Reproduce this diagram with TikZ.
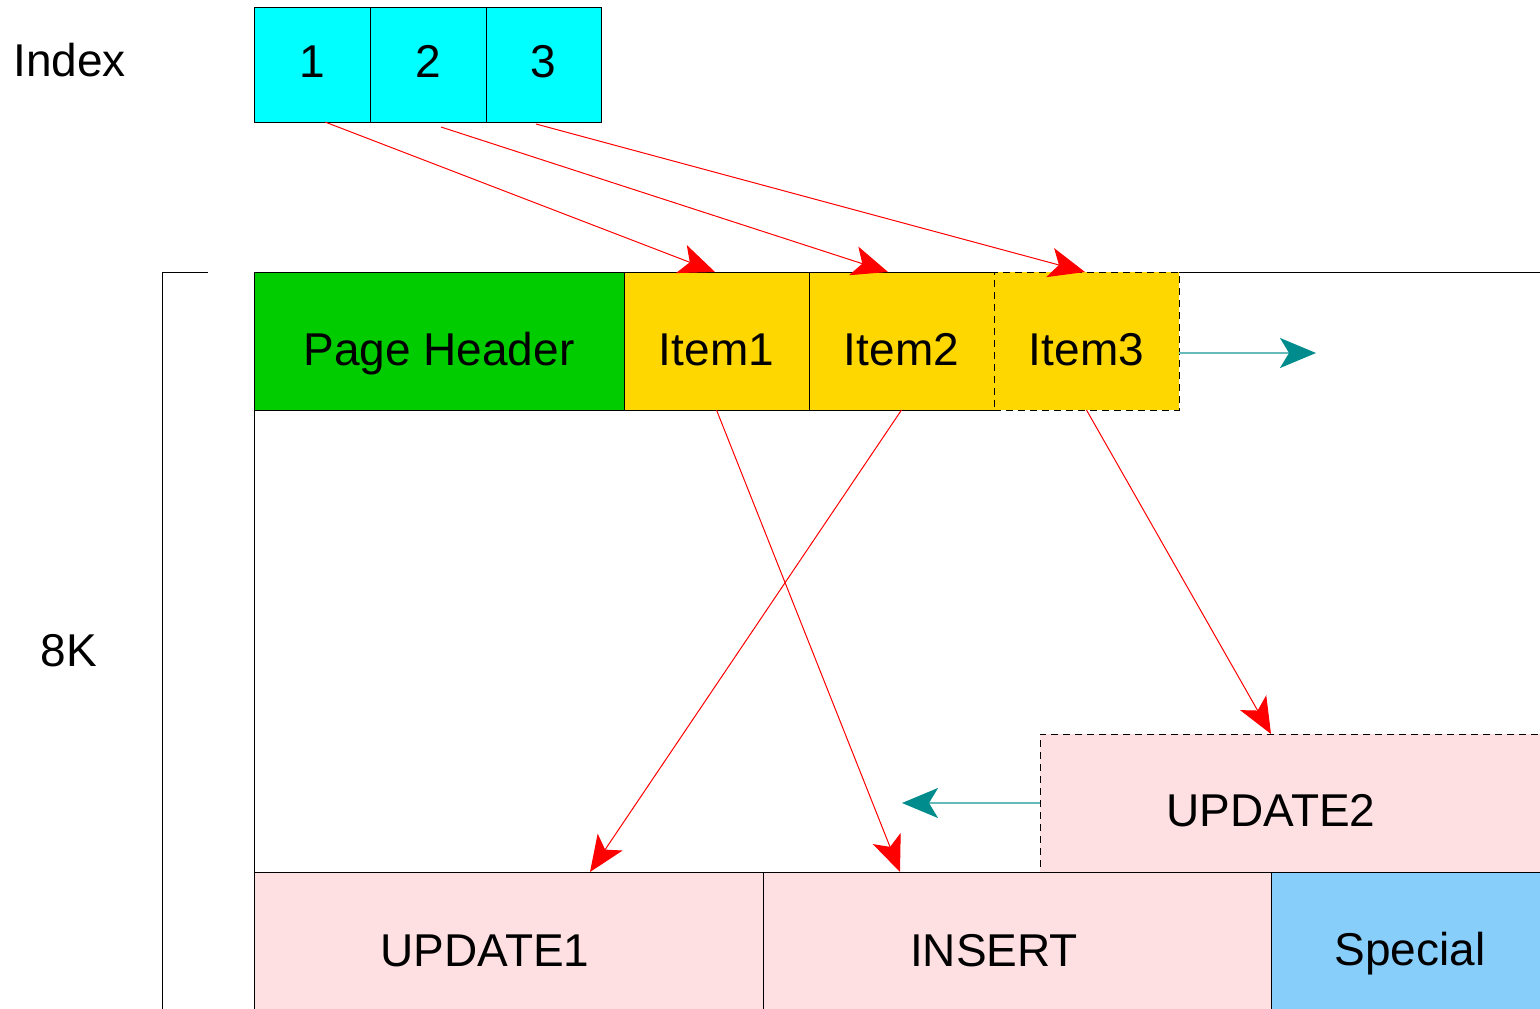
\documentclass[tikz,border=0pt]{standalone}
\usepackage{fontspec}
\setmainfont{Liberation Sans}
\usetikzlibrary{arrows.meta,calc}
\definecolor{cyanbox}{RGB}{0,255,255}
\definecolor{greenbox}{RGB}{0,204,0}
\definecolor{yellowbox}{RGB}{255,215,0}
\definecolor{pinkbox}{RGB}{255,224,226}
\definecolor{bluebox}{RGB}{135,206,250}
\definecolor{tealc}{RGB}{0,140,140}
\begin{document}
\begin{tikzpicture}[x=1pt,y=-1pt,
  lbl/.style={inner sep=0pt,outer sep=0pt,font=\fontsize{46}{55}\selectfont,text height=33pt,text depth=0pt},
  box/.style={draw=black,line width=1pt,inner sep=0pt,outer sep=0pt,font=\fontsize{46}{55}\selectfont,text height=49pt,text depth=0pt},
  cellbox/.style={box,fill=cyanbox,text height=33pt,text depth=8pt,minimum height=115pt},
  itembox/.style={box,fill=yellowbox,minimum width=185pt,minimum height=138pt},
  dbox/.style={dash pattern=on 7pt off 5pt},
  redarrow/.style={draw=red,line width=1pt,-{Stealth[length=36pt,width=30pt,inset=9pt,color=red]}},
  tealarrow/.style={draw=tealc!60,line width=2pt,-{Stealth[length=36pt,width=30pt,inset=9pt,color=tealc]}}]
\useasboundingbox (0,0) rectangle (1540,1009);

% labels
\node[lbl] (index) at (69.5,60) {Index};
\node[lbl] (eightk) at (69,650) {8K};

% bracket and page frame
\draw[line width=1pt] (208,272) -- (162,272) -- (162,1020);
\draw[line width=1pt] (254,1020) -- (254,272) -- (1550,272);

% index cells
\node[cellbox,minimum width=116pt] (i1) at (312,64.5) {1};
\node[cellbox,minimum width=116pt] (i2) at (428,64.5) {2};
\node[cellbox,minimum width=115pt] (i3) at (543.5,64.5) {3};

% header row
\node[box,fill=greenbox,minimum width=370pt,minimum height=138pt] (ph) at (439,341) {Page Header};
\node[itembox] (it1) at (716.5,341) {Item1};
\node[itembox] (it2) at (901.5,341) {Item2};
\node[itembox,dbox] (it3) at (1086.5,341) {Item3};

% bottom row
\node[box,fill=pinkbox,minimum width=509pt,minimum height=148pt,
  label={[lbl,xshift=-23.5pt,yshift=-4pt]center:UPDATE1}] (up1) at (508.5,946) {};
\node[box,fill=pinkbox,minimum width=508pt,minimum height=148pt,
  label={[lbl,xshift=-23pt,yshift=-4pt]center:INSERT}] (ins) at (1017,946) {};
\node[box,fill=bluebox,minimum width=279pt,minimum height=148pt,
  label={[lbl,xshift=-0.5pt,yshift=-3pt]center:Special}] (sp) at (1410.5,946) {};
\node[box,dbox,fill=pinkbox,minimum width=510pt,minimum height=138pt,
  label={[lbl,xshift=-24pt,yshift=-7pt]center:UPDATE2}] (up2) at (1295,803) {};

% free ends
\coordinate (tend1) at (1316,353);
\coordinate (tend2) at (902,803);

% red pointers
\draw[redarrow] ($(i1.south)+(13,0)$) -- ($(it1.north)+(-1.5,0)$);
\draw[redarrow] ($(i2.south)+(13,5)$) -- ($(it2.north)+(-13.5,0)$);
\draw[redarrow] ($(i3.south)+(-7.5,2)$) -- ($(it3.north)+(-1.5,0)$);
\draw[redarrow] (it1.south) -- ($(ins.north)+(-117,0)$);
\draw[redarrow] (it2.south) -- ($(up1.north)+(81.5,0)$);
\draw[redarrow] (it3.south) -- ($(up2.north)+(-24,0)$);

% teal arrows
\draw[tealarrow] ($(it3.east)+(0,12)$) -- (tend1);
\draw[tealarrow] (up2.west) -- (tend2);
\end{tikzpicture}
\end{document}
